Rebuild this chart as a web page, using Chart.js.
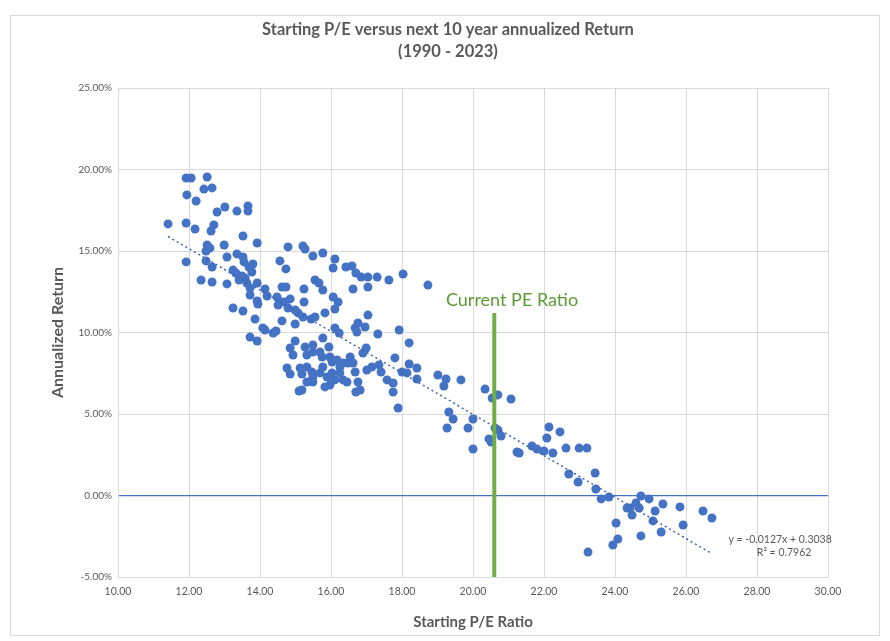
<!DOCTYPE html>
<html>
<head>
<meta charset="utf-8">
<script src="https://cdn.jsdelivr.net/npm/chart.js@4.4.1/dist/chart.umd.min.js"></script>
<style>
  html, body { margin: 0; padding: 0; background: #ffffff; }
  #wrap { width: 890px; height: 641px; }
</style>
</head>
<body>
<div id="wrap"><canvas id="peChart" width="890" height="641"></canvas></div>
<script>
// ===== DATA =====
// starting P/E of each month
const peValues = [
  11.92, 12.06, 12.51, 12.42, 12.65, 11.94, 12.20, 12.79, 13.01, 13.35, 13.66, 13.66, 11.41, 11.92, 12.70, 12.17, 12.62,
  13.52, 13.92, 12.51, 12.59, 12.48, 12.99, 11.92, 12.48, 13.07, 13.35, 13.52, 13.55, 12.65, 13.24, 13.32, 13.69, 13.80,
  13.77, 12.34, 12.65, 13.07, 13.41, 13.58, 13.49, 13.63, 13.72, 13.92, 14.14, 13.72, 13.92, 13.94, 14.20, 14.48, 13.24,
  13.52, 13.86, 14.08, 14.14, 13.72, 13.92, 14.37, 14.45, 14.56, 14.73, 14.79, 15.21, 15.27, 15.49, 15.77, 16.11, 16.06,
  16.42, 16.59, 16.70, 16.85, 17.04, 17.30, 17.63, 18.03, 16.62, 17.04, 15.55, 15.66, 15.77, 15.24, 14.62, 14.73, 14.59,
  14.51, 14.70, 14.85, 14.79, 14.99, 15.07, 15.21, 15.24, 15.44, 15.55, 15.83, 16.06, 16.20, 16.11, 14.99, 14.62, 16.11,
  16.23, 15.77, 15.94, 16.68, 16.76, 16.96, 17.04, 16.73, 17.32, 17.92, 18.20, 16.99, 17.80, 14.99, 14.85, 14.93, 15.27,
  15.49, 15.49, 15.32, 15.69, 15.75, 15.97, 16.03, 16.17, 16.25, 16.34, 16.54, 16.48, 16.62, 16.90, 17.01, 17.15, 17.35,
  17.41, 17.58, 17.75, 18.00, 18.14, 14.76, 14.85, 15.13, 15.32, 15.18, 15.46, 15.49, 15.32, 15.49, 15.69, 15.77, 15.89,
  16.03, 16.11, 16.25, 16.34, 15.97, 15.83, 16.45, 16.68, 16.76, 16.82, 16.70, 15.18, 15.10, 17.75, 17.89, 18.73, 18.42,
  18.42, 18.20,
  19.01, 19.24, 19.18, 19.66, 20.34, 20.70, 20.54, 21.07, 19.32, 19.44, 19.27, 19.86, 20.00, 20.00, 20.62, 20.70, 20.79,
  20.45, 20.51, 21.24, 21.30, 21.66, 21.80, 22.00, 22.25, 22.14, 22.08, 22.45, 22.62, 22.99, 23.21, 22.70, 22.96, 23.44,
  23.46, 23.61, 23.83,
  23.24, 24.03, 24.08, 23.94, 24.34, 24.42, 24.48, 24.59, 24.68, 24.73, 24.96, 24.73, 25.07, 25.13, 25.35, 25.30, 25.83,
  25.92, 26.48, 26.73
];
// next 10 year annualized return (%)
const returnValues = [
  19.48, 19.48, 19.54, 18.80, 18.87, 18.44, 18.07, 17.39, 17.70, 17.45, 17.76, 17.45, 16.66, 16.72, 16.60, 16.35, 16.23,
  15.92, 15.49, 15.37, 15.18, 15.00, 15.37, 14.33, 14.39, 14.63, 14.82, 14.63, 14.33, 14.02, 13.83, 13.65, 14.02, 14.20,
  13.71, 13.22, 13.10, 12.98, 13.22, 13.34, 13.47, 13.04, 12.73, 13.04, 12.67, 12.30, 11.93, 11.75, 12.24, 12.18, 11.50,
  11.32, 10.83, 10.28, 10.15, 9.72, 9.48, 9.97, 10.09, 14.39, 13.90, 15.25, 15.31, 15.12, 14.69, 14.88, 14.51, 13.96,
  14.02, 14.08, 13.65, 13.40, 13.40, 13.40, 13.22, 13.59, 12.67, 12.79, 13.22, 13.04, 12.61, 12.67, 12.79, 12.79, 11.87,
  11.69, 11.87, 12.06, 11.50, 11.38, 11.20, 10.95, 11.87, 10.83, 10.95, 11.20, 12.18, 11.87, 11.44, 10.52, 10.71, 10.28,
  9.97, 9.66, 9.11, 10.28, 10.58, 10.34, 11.07, 10.03, 9.91, 10.15, 9.36, 9.05, 8.44, 9.48, 9.05, 8.62, 9.11,
  9.23, 8.80, 8.62, 8.80, 8.50, 8.50, 8.19, 8.31, 7.88, 8.13, 8.50, 8.13, 8.13, 8.74, 7.70, 7.88, 8.01,
  7.58, 7.09, 6.90, 7.58, 7.52, 7.82, 7.45, 7.82, 7.88, 7.45, 7.58, 7.27, 6.96, 6.96, 7.52, 7.88, 7.27,
  7.52, 7.09, 7.52, 7.09, 6.78, 6.66, 6.96, 7.58, 6.96, 6.47, 6.35, 6.47, 6.41, 6.35, 5.37, 12.91, 7.82,
  7.15, 8.07,
  7.39, 7.15, 6.72, 7.09, 6.53, 6.17, 5.98, 5.92, 5.12, 4.69, 4.14, 4.14, 4.69, 2.85, 4.14, 4.02, 3.65,
  3.47, 3.28, 2.67, 2.61, 3.04, 2.85, 2.73, 2.61, 4.20, 3.53, 3.90, 2.91, 2.91, 2.91, 1.32, 0.83, 1.38,
  0.40, -0.21, -0.09,
  -3.47, -1.69, -2.67, -3.04, -0.77, -0.77, -1.20, -0.46, -0.77, -0.03, -0.21, -2.48, -1.56, -0.95, -0.52, -2.24, -0.70,
  -1.81, -0.95, -1.38
];

// linear trendline reported by the spreadsheet (return as a fraction)
const trendSlope = -0.0127;
const trendIntercept = 0.3038;
const trendR2 = 0.7962;

// current P/E marker
const currentPE = 20.6;
const currentPETop = 11.2;

const titleLines = ['Starting P/E versus next 10 year annualized Return', '(1990 - 2023)'];
const xTicks = [10, 12, 14, 16, 18, 20, 22, 24, 26, 28, 30];
const yTicks = [-5, 0, 5, 10, 15, 20, 25];

// ===== BUILD SERIES =====
const scatterPoints = peValues.map((pe, i) => ({ x: pe, y: returnValues[i] }));
const peMin = Math.min(...peValues);
const peMax = Math.max(...peValues);
const trendPoints = [peMin, peMax].map(pe => ({ x: pe, y: (trendSlope * pe + trendIntercept) * 100 }));
const currentPoints = [{ x: currentPE, y: yTicks[0] }, { x: currentPE, y: currentPETop }];

const textGrey = '#595959';
const dotBlue = '#4472c4';
const peGreen = '#70ad47';
const baseFont = 'Lato, "Open Sans", sans-serif';

// ===== CUSTOM DRAWING: card border, title, labels =====
const extras = {
    id: 'extras',
    beforeDraw(chart) {
        const c = chart.ctx;
        c.save();
        c.fillStyle = '#ffffff';
        c.fillRect(0, 0, chart.width, chart.height);
        c.strokeStyle = '#d9d9d9';
        c.lineWidth = 1;
        c.strokeRect(10.5, 15.5, 869, 620);
        // title, centred on the card
        c.fillStyle = textGrey;
        c.font = 'bold 16.5px ' + baseFont;
        c.textAlign = 'center';
        c.textBaseline = 'middle';
        titleLines.forEach((line, i) => c.fillText(line, 448, 30 + i * 22));
        c.restore();
    },
    afterDatasetsDraw(chart) {
        const c = chart.ctx;
        const xs = chart.scales.x;
        const ys = chart.scales.y;
        c.save();
        // current PE label
        c.fillStyle = '#5b9b36';
        c.font = '18px ' + baseFont;
        c.textAlign = 'center';
        c.textBaseline = 'middle';
        c.fillText('Current PE Ratio', xs.getPixelForValue(currentPE + 0.5), ys.getPixelForValue(currentPETop + 0.8));
        // trendline equation
        c.fillStyle = textGrey;
        c.font = '10.5px ' + baseFont;
        const ex = xs.getPixelForValue(28.65);
        c.fillText('y = ' + trendSlope.toFixed(4) + 'x + ' + trendIntercept.toFixed(4), ex, ys.getPixelForValue(-2.73));
        c.fillText('R\u00b2 = ' + trendR2.toFixed(4), ex + 4, ys.getPixelForValue(-3.53));
        c.restore();
    }
};

// ===== CHART =====
document.addEventListener('DOMContentLoaded', function() {
    const ctx = document.getElementById('peChart');

    new Chart(ctx, {
        type: 'scatter',
        data: {
            datasets: [
                {
                    label: 'Current PE',
                    data: currentPoints,
                    showLine: true,
                    borderColor: peGreen,
                    borderWidth: 4,
                    pointRadius: 0,
                    order: 1
                },
                {
                    label: 'Trend',
                    data: trendPoints,
                    showLine: true,
                    borderColor: '#3d66ad',
                    borderWidth: 1.5,
                    borderDash: [2, 3],
                    pointRadius: 0,
                    order: 2
                },
                {
                    label: 'Return',
                    data: scatterPoints,
                    backgroundColor: dotBlue,
                    borderWidth: 0,
                    pointRadius: 4.5,
                    order: 3
                }
            ]
        },
        options: {
            responsive: false,
            animation: false,
            layout: {
                padding: { left: 10, right: 62, top: 88, bottom: 10 }
            },
            plugins: {
                legend: { display: false },
                tooltip: { enabled: false },
                title: { display: false }
            },
            scales: {
                x: {
                    type: 'linear',
                    min: xTicks[0],
                    max: xTicks[xTicks.length - 1],
                    afterBuildTicks: function(scale) {
                        scale.ticks = xTicks.map(v => ({ value: v }));
                    },
                    afterFit: function(scale) {
                        scale.height = 54;
                    },
                    grid: {
                        color: '#d9d9d9',
                        drawTicks: false
                    },
                    border: { color: '#d9d9d9' },
                    ticks: {
                        color: textGrey,
                        padding: 8,
                        font: { family: baseFont, size: 10.5 },
                        callback: function(value) {
                            return value.toFixed(2);
                        }
                    },
                    title: {
                        display: true,
                        text: 'Starting P/E Ratio',
                        color: textGrey,
                        font: { family: baseFont, size: 15, weight: 'bold' },
                        padding: 0
                    }
                },
                y: {
                    type: 'linear',
                    min: yTicks[0],
                    max: yTicks[yTicks.length - 1],
                    afterBuildTicks: function(scale) {
                        scale.ticks = yTicks.map(v => ({ value: v }));
                    },
                    afterFit: function(scale) {
                        scale.width = 108;
                    },
                    grid: {
                        color: function(context) {
                            return context.tick && context.tick.value === 0 ? dotBlue : '#d9d9d9';
                        },
                        lineWidth: function(context) {
                            return context.tick && context.tick.value === 0 ? 1.2 : 1;
                        },
                        drawTicks: false
                    },
                    border: { color: '#d9d9d9' },
                    ticks: {
                        color: textGrey,
                        padding: 6,
                        font: { family: baseFont, size: 10 },
                        callback: function(value) {
                            return value.toFixed(2) + '%';
                        }
                    },
                    title: {
                        display: true,
                        text: 'Annualized Return',
                        color: textGrey,
                        font: { family: baseFont, size: 16, weight: 'bold' },
                        padding: { top: 38, bottom: 0 }
                    }
                }
            }
        },
        plugins: [extras]
    });
});
</script>
</body>
</html>
